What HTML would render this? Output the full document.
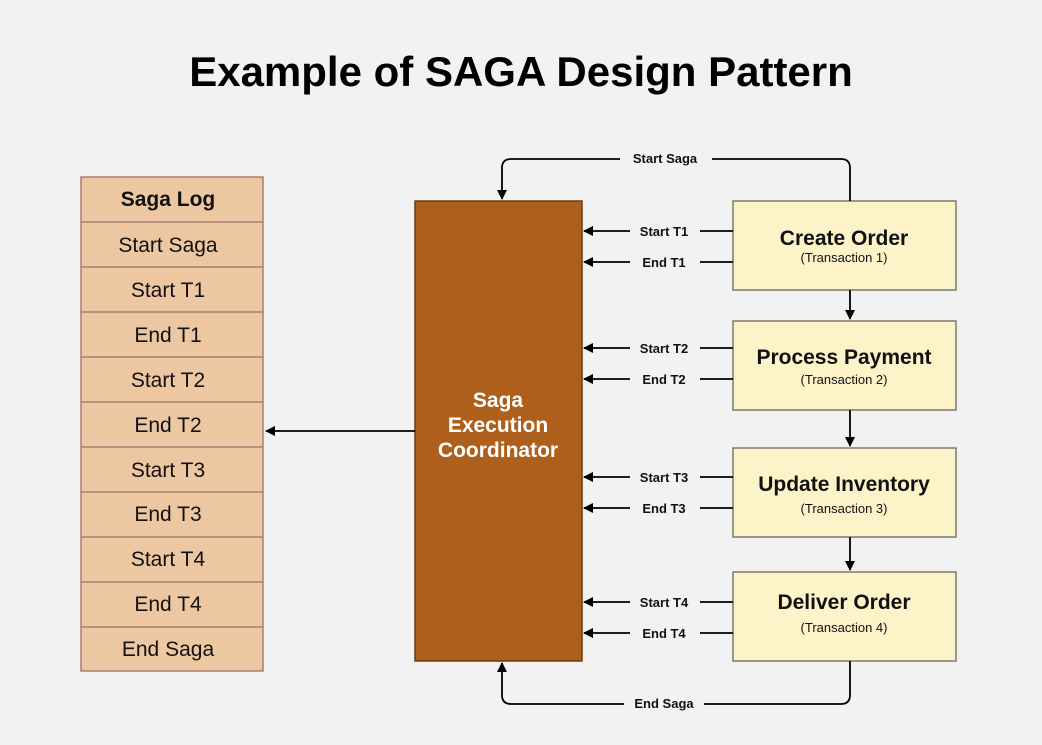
<!DOCTYPE html>
<html><head><meta charset="utf-8"><style>
html,body{margin:0;padding:0;background:#f2f2f2}
svg{display:block}
text{font-family:"Liberation Sans","DejaVu Sans",sans-serif}
</style></head><body>
<svg width="1042" height="745" viewBox="0 0 1042 745" xmlns="http://www.w3.org/2000/svg">
<defs><marker id="a" markerWidth="10" markerHeight="10" refX="9" refY="5" orient="auto" markerUnits="userSpaceOnUse"><path d="M0,0 L10,5 L0,10 z" fill="#000"/></marker></defs>
<rect width="1042" height="745" fill="#f2f2f2"/>
<text x="521" y="86" text-anchor="middle" font-size="42" font-weight="bold" fill="#000">Example of SAGA Design Pattern</text>
<!-- Log -->
<g stroke="#a97e72" stroke-width="1.5" fill="#ecc7a2">
<rect x="81" y="177" width="182" height="494"/>
</g>
<g stroke="#a97e72" stroke-width="1.5">
<line x1="81" y1="222" x2="263" y2="222"/><line x1="81" y1="267" x2="263" y2="267"/>
<line x1="81" y1="312" x2="263" y2="312"/><line x1="81" y1="357" x2="263" y2="357"/>
<line x1="81" y1="402" x2="263" y2="402"/><line x1="81" y1="447" x2="263" y2="447"/>
<line x1="81" y1="492" x2="263" y2="492"/><line x1="81" y1="537" x2="263" y2="537"/>
<line x1="81" y1="582" x2="263" y2="582"/><line x1="81" y1="627" x2="263" y2="627"/>
</g>
<g font-size="21" text-anchor="middle" fill="#111">
<text x="168" y="206" font-weight="bold">Saga Log</text>
<text x="168" y="252">Start Saga</text>
<text x="168" y="297">Start T1</text>
<text x="168" y="342">End T1</text>
<text x="168" y="387">Start T2</text>
<text x="168" y="432">End T2</text>
<text x="168" y="477">Start T3</text>
<text x="168" y="521">End T3</text>
<text x="168" y="566">Start T4</text>
<text x="168" y="611">End T4</text>
<text x="168" y="656">End Saga</text>
</g>
<!-- Coordinator -->
<rect x="415" y="201" width="167" height="460" fill="#ad5f1b" stroke="#6b3c14" stroke-width="1.5"/>
<g font-size="21" font-weight="bold" fill="#fff" text-anchor="middle">
<text x="498" y="407">Saga</text><text x="498" y="432">Execution</text><text x="498" y="457">Coordinator</text>
</g>
<line x1="415" y1="431" x2="266" y2="431" stroke="#000" stroke-width="1.8" marker-end="url(#a)"/>
<!-- Boxes -->
<g fill="#fdf3c8" stroke="#7d7a6c" stroke-width="1.5">
<rect x="733" y="201" width="223" height="89"/>
<rect x="733" y="321" width="223" height="89"/>
<rect x="733" y="448" width="223" height="89"/>
<rect x="733" y="572" width="223" height="89"/>
</g>
<g text-anchor="middle" fill="#111">
<text x="844" y="245" font-size="21" font-weight="bold">Create Order</text>
<text x="844" y="262" font-size="13">(Transaction 1)</text>
<text x="844" y="364" font-size="21" font-weight="bold">Process Payment</text>
<text x="844" y="384" font-size="13">(Transaction 2)</text>
<text x="844" y="491" font-size="21" font-weight="bold">Update Inventory</text>
<text x="844" y="513" font-size="13">(Transaction 3)</text>
<text x="844" y="609" font-size="21" font-weight="bold">Deliver Order</text>
<text x="844" y="632" font-size="13">(Transaction 4)</text>
</g>
<!-- vertical arrows -->
<g stroke="#000" stroke-width="1.8" fill="none">
<line x1="850" y1="290" x2="850" y2="319" marker-end="url(#a)"/>
<line x1="850" y1="410" x2="850" y2="446" marker-end="url(#a)"/>
<line x1="850" y1="537" x2="850" y2="570" marker-end="url(#a)"/>
<path d="M850,201 V168 Q850,159 841,159 H712 M620,159 H511 Q502,159 502,168 V199" marker-end="url(#a)"/>
<path d="M850,661 V695 Q850,704 841,704 H704 M624,704 H511 Q502,704 502,695 V663" marker-end="url(#a)"/>
</g>
<!-- horizontal arrows -->
<g stroke="#000" stroke-width="1.8">
<line x1="733" y1="231" x2="700" y2="231"/><line x1="630" y1="231" x2="584" y2="231" marker-end="url(#a)"/>
<line x1="733" y1="262" x2="700" y2="262"/><line x1="630" y1="262" x2="584" y2="262" marker-end="url(#a)"/>
<line x1="733" y1="348" x2="700" y2="348"/><line x1="630" y1="348" x2="584" y2="348" marker-end="url(#a)"/>
<line x1="733" y1="379" x2="700" y2="379"/><line x1="630" y1="379" x2="584" y2="379" marker-end="url(#a)"/>
<line x1="733" y1="477" x2="700" y2="477"/><line x1="630" y1="477" x2="584" y2="477" marker-end="url(#a)"/>
<line x1="733" y1="508" x2="700" y2="508"/><line x1="630" y1="508" x2="584" y2="508" marker-end="url(#a)"/>
<line x1="733" y1="602" x2="700" y2="602"/><line x1="630" y1="602" x2="584" y2="602" marker-end="url(#a)"/>
<line x1="733" y1="633" x2="700" y2="633"/><line x1="630" y1="633" x2="584" y2="633" marker-end="url(#a)"/>
</g>
<g font-size="13" font-weight="bold" text-anchor="middle" fill="#111">
<text x="665" y="163">Start Saga</text>
<text x="664" y="708">End Saga</text>
<text x="664" y="236">Start T1</text><text x="664" y="267">End T1</text>
<text x="664" y="353">Start T2</text><text x="664" y="384">End T2</text>
<text x="664" y="482">Start T3</text><text x="664" y="513">End T3</text>
<text x="664" y="607">Start T4</text><text x="664" y="638">End T4</text>
</g>
</svg>
</body></html>
